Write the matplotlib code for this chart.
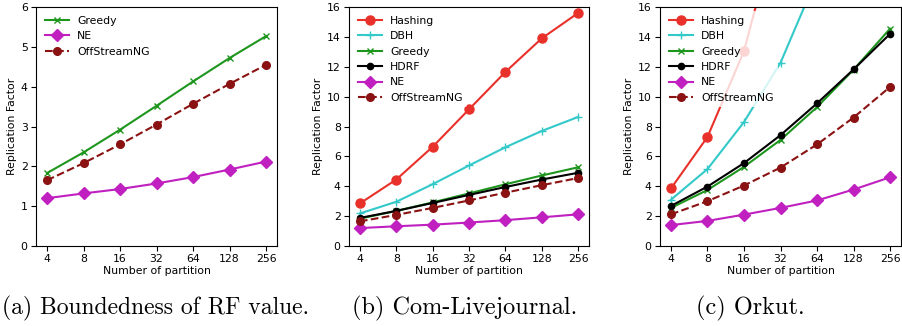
import matplotlib
matplotlib.use("Agg")
import matplotlib.pyplot as plt

partitions = ["4", "8", "16", "32", "64", "128", "256"]

# (a) boundedness
a_greedy = [1.83, 2.35, 2.92, 3.52, 4.13, 4.72, 5.27]
a_ne = [1.20, 1.32, 1.43, 1.57, 1.73, 1.92, 2.12]
a_offstream = [1.65, 2.08, 2.55, 3.05, 3.57, 4.07, 4.55]

# (b) Com-Livejournal
b_hashing = [2.85, 4.45, 6.64, 9.15, 11.65, 13.9, 15.6]
b_dbh = [2.18, 2.96, 4.14, 5.39, 6.61, 7.70, 8.64]
b_greedy = [1.83, 2.35, 2.92, 3.52, 4.13, 4.72, 5.27]
b_hdrf = [1.88, 2.35, 2.88, 3.42, 3.95, 4.45, 4.90]
b_ne = [1.20, 1.32, 1.43, 1.57, 1.73, 1.92, 2.12]
b_offstream = [1.65, 2.08, 2.55, 3.05, 3.57, 4.07, 4.55]

# (c) Orkut
c_hashing = [3.85, 7.30, 13.05, 22.3, 35.0, 55.0, 85.0]
c_dbh = [3.10, 5.15, 8.30, 12.27, 18.0, 26.0, 38.0]
c_greedy = [2.55, 3.75, 5.30, 7.10, 9.30, 11.80, 14.55]
c_hdrf = [2.68, 3.98, 5.55, 7.42, 9.55, 11.82, 14.20]
c_ne = [1.40, 1.68, 2.10, 2.55, 3.05, 3.78, 4.60]
c_offstream = [2.12, 3.00, 4.05, 5.25, 6.80, 8.60, 10.65]

styles = {
    "Hashing": dict(color="#e8312a", marker="o", ms=6.5),
    "DBH": dict(color="#33c9c9", marker="+", ms=6),
    "Greedy": dict(color="#1e961e", marker="x", ms=5),
    "HDRF": dict(color="black", marker="o", ms=4.5),
    "NE": dict(color="#bf20bf", marker="D", ms=6.5),
    "OffStreamNG": dict(color="#8b1212", marker="o", ms=5.5, ls="--"),
}

fig = plt.figure(figsize=(9.03, 3.26), dpi=100)
boxes = [
    [0.0399, 0.2454, 0.2669, 0.7331],
    [0.3865, 0.2454, 0.2658, 0.7331],
    [0.7309, 0.2454, 0.2669, 0.7331],
]
panels = [
    ([("Greedy", a_greedy), ("NE", a_ne), ("OffStreamNG", a_offstream)], 6, [0, 1, 2, 3, 4, 5, 6]),
    ([("Hashing", b_hashing), ("DBH", b_dbh), ("Greedy", b_greedy), ("HDRF", b_hdrf),
      ("NE", b_ne), ("OffStreamNG", b_offstream)], 16, range(0, 17, 2)),
    ([("Hashing", c_hashing), ("DBH", c_dbh), ("Greedy", c_greedy), ("HDRF", c_hdrf),
      ("NE", c_ne), ("OffStreamNG", c_offstream)], 16, range(0, 17, 2)),
]
captions = ["(a) Boundedness of RF value.", "(b) Com-Livejournal.", "(c) Orkut."]
# (x, ha, size) for each caption
cap_pos = [(0.002, "left", 17.0), (0.515, "center", 17.5), (0.831, "center", 17.5)]

x = list(range(len(partitions)))
for box, (series, ymax, yticks), cap, (cx, cha, csize) in zip(boxes, panels, captions, cap_pos):
    ax = fig.add_axes(box)
    for name, vals in series:
        st = dict(styles[name])
        ax.plot(x, vals, label=name, lw=1.5, color=st.pop("color"),
                marker=st.pop("marker"), markersize=st.pop("ms"),
                linestyle=st.pop("ls", "-"))
    ax.set_ylim(0, ymax)
    ax.set_yticks(list(yticks))
    ax.set_xlim(-0.3, 6.3)
    ax.set_xticks(x)
    ax.set_xticklabels(partitions)
    ax.tick_params(labelsize=7.8, length=3.5, pad=2.5)
    ax.set_xlabel("Number of partition", fontsize=7.8, labelpad=1.5)
    ax.set_ylabel("Replication Factor", fontsize=7.8, labelpad=3)
    ax.legend(loc="upper left", fontsize=7.8, framealpha=0.8,
              edgecolor="none", handlelength=2.2, borderaxespad=0.4,
              labelspacing=0.5)
    fig.text(cx, 0.034, cap, ha=cha, va="baseline", fontsize=csize, family="cmr10")

fig.savefig("out.png", dpi=100)
